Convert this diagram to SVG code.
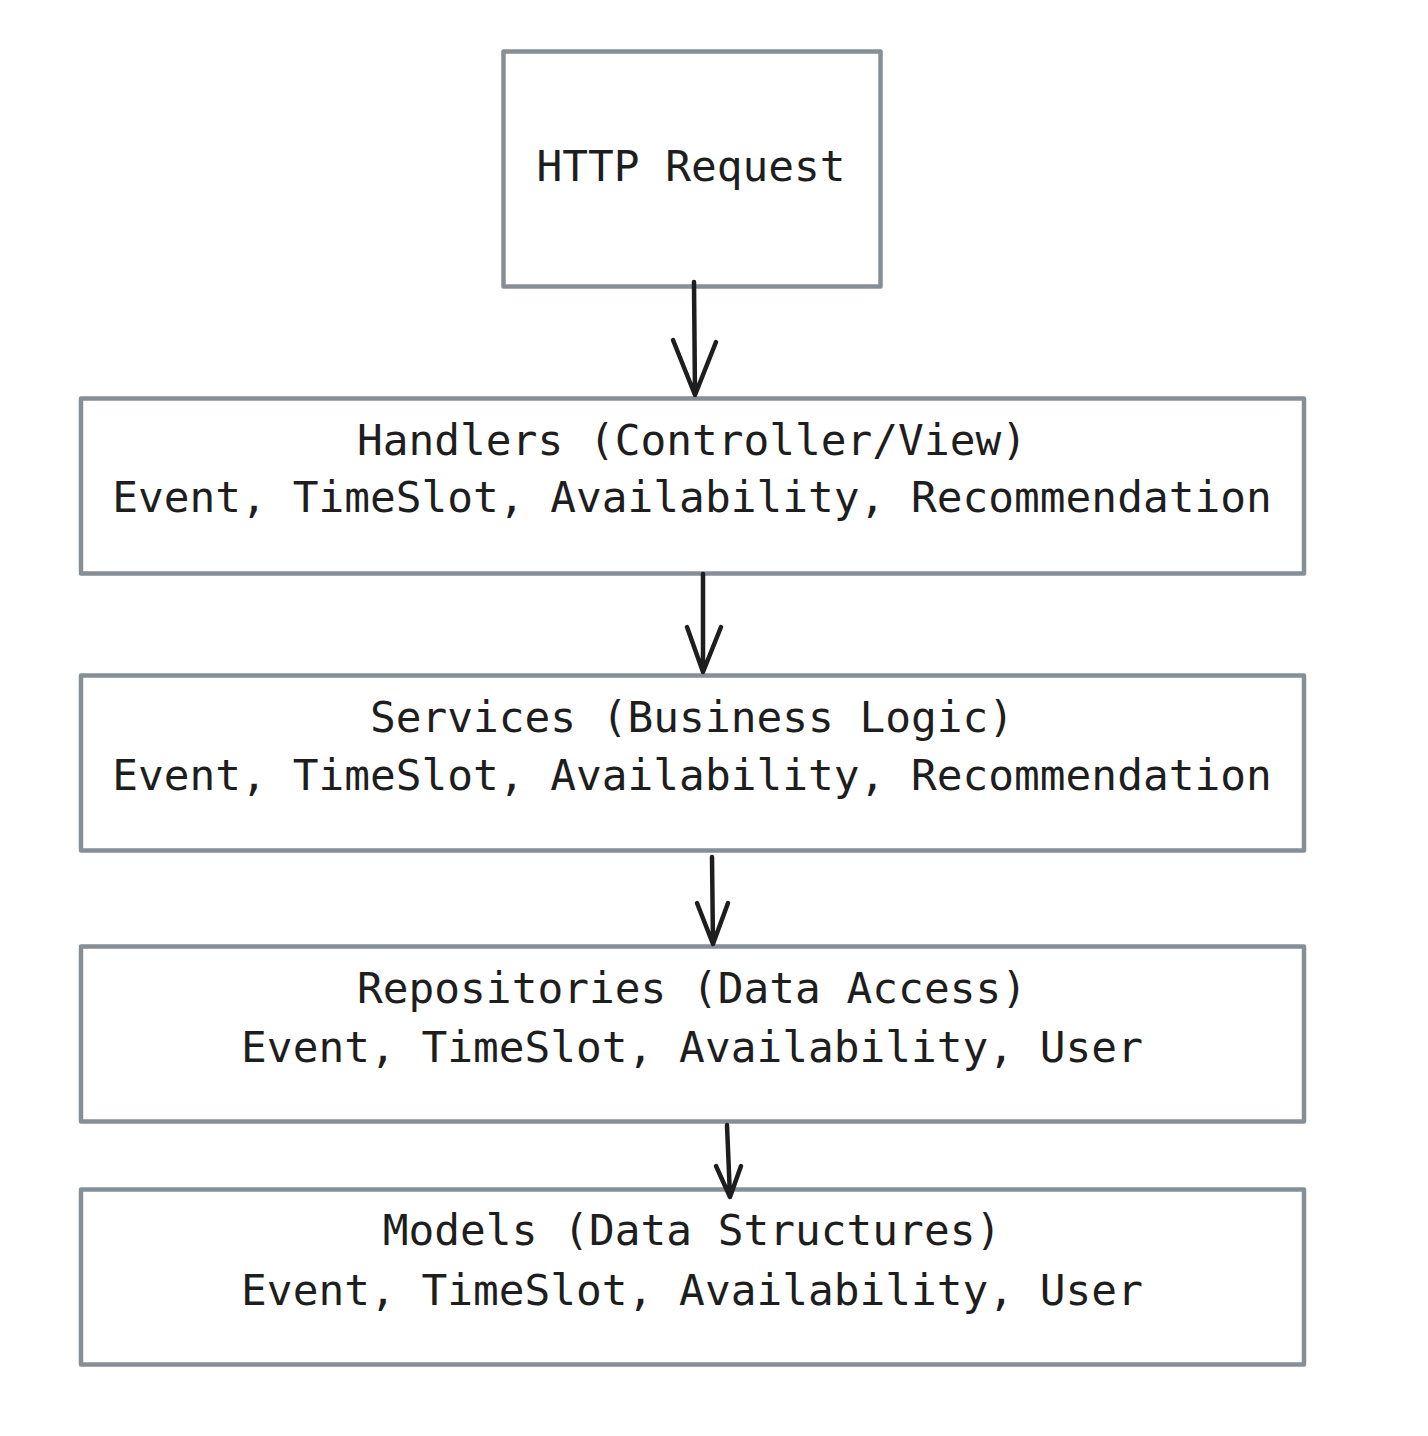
<svg xmlns="http://www.w3.org/2000/svg" width="1428" height="1436" viewBox="0 0 1428 1436">
<style>
.box{fill:#ffffff;stroke:#868e96;stroke-width:4.5;stroke-linejoin:round}
.lbl{font-family:"DejaVu Sans Mono","Liberation Mono",monospace;font-size:42.8px;fill:#1e1e1e;text-anchor:middle}
.edge{fill:none;stroke:#1e1e1e;stroke-width:4.5;stroke-linecap:round;stroke-linejoin:round}
</style>
<rect width="1428" height="1436" fill="#ffffff"/>
<g id="http-request">
<rect class="box" x="503.5" y="51.5" width="377" height="235"/>
<text class="lbl" x="691" y="181">HTTP Request</text>
</g>
<g id="handlers">
<rect class="box" x="81" y="398.5" width="1223" height="175"/>
<text class="lbl" x="692" y="455">Handlers (Controller/View)</text>
<text class="lbl" x="692" y="512">Event, TimeSlot, Availability, Recommendation</text>
</g>
<g id="services">
<rect class="box" x="81" y="675.5" width="1223" height="175"/>
<text class="lbl" x="692" y="732">Services (Business Logic)</text>
<text class="lbl" x="692" y="790">Event, TimeSlot, Availability, Recommendation</text>
</g>
<g id="repositories">
<rect class="box" x="81" y="946.5" width="1223" height="175"/>
<text class="lbl" x="692" y="1003">Repositories (Data Access)</text>
<text class="lbl" x="692" y="1062">Event, TimeSlot, Availability, User</text>
</g>
<g id="models">
<rect class="box" x="81" y="1189.5" width="1223" height="175"/>
<text class="lbl" x="692" y="1245">Models (Data Structures)</text>
<text class="lbl" x="692" y="1305">Event, TimeSlot, Availability, User</text>
</g>
<g id="connectors">
<path class="edge" d="M694 282 L695 395 M673 340 L695 395 L716 342"/>
<path class="edge" d="M703 574 L703 672 M687 627 L703 672 L721 627"/>
<path class="edge" d="M712 857 L713 944 M697 903 L713 944 L728 903"/>
<path class="edge" d="M727 1125 L730 1197 M716 1166 L730 1197 L741 1166"/>
</g>
</svg>
